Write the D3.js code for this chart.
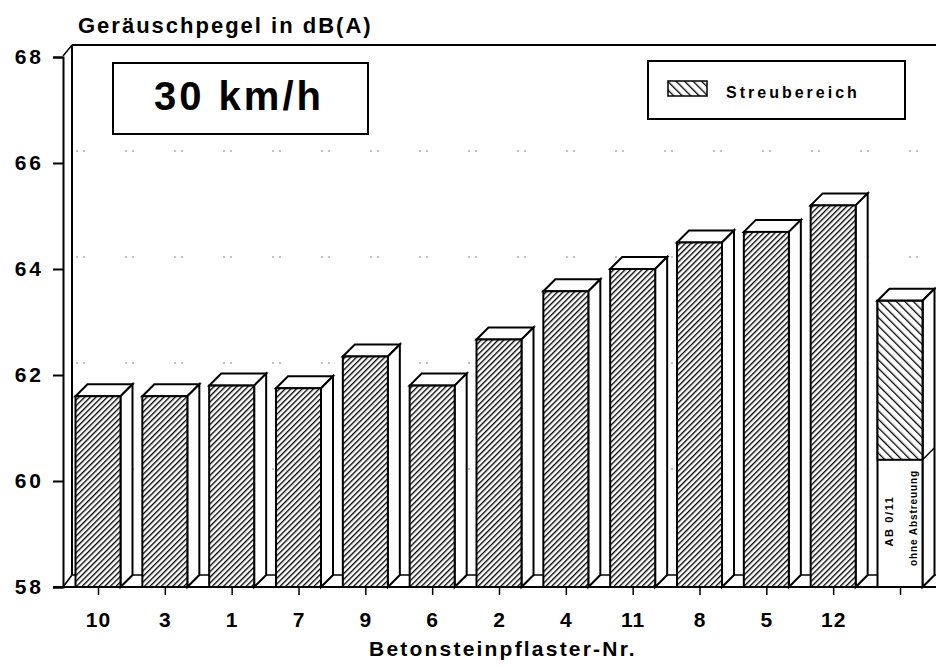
<!DOCTYPE html>
<html>
<head>
<meta charset="utf-8">
<script src="https://cdn.jsdelivr.net/npm/d3@7"></script>
<style>
  body { margin: 0; background: #fff; }
  svg { font-family: "Liberation Sans", Arial, sans-serif; }
</style>
</head>
<body>
<svg id="chart" width="936" height="666"></svg>
<script>
// values
var pflaster = ["10", "3", "1", "7", "9", "6", "2", "4", "11", "8", "5", "12"];
var pegel = [61.6, 61.6, 61.8, 61.75, 62.35, 61.8, 62.67, 63.58, 64.0, 64.5, 64.7, 65.2];
var ab_label = ["AB 0/11", "ohne Abstreuung"];
var ab_ohne = 60.4;      // top of the white part
var ab_streu = 63.4;     // top of the hatched Streubereich
var yticks = [58, 60, 62, 64, 66, 68];
var categories = pflaster.concat(["AB"]);

var svg = d3.select("#chart");
var depth = 12, bar_w = 45;

var x = d3.scalePoint().domain(categories).range([98, 900]);
var y = d3.scaleLinear().domain([58, 68]).range([587, 57]);

// hatch patterns
var defs = svg.append("defs");
var p1 = defs.append("pattern")
    .attr("id", "hatch")
    .attr("patternUnits", "userSpaceOnUse")
    .attr("width", 4).attr("height", 4)
    .attr("patternTransform", "rotate(45)");
p1.append("rect").attr("width", 4).attr("height", 4).attr("fill", "#fff");
p1.append("line").attr("x1", 0).attr("y1", 0).attr("x2", 0).attr("y2", 4)
    .attr("stroke", "#000").attr("stroke-width", 2.7);

var p2 = defs.append("pattern")
    .attr("id", "hatch2")
    .attr("patternUnits", "userSpaceOnUse")
    .attr("width", 6).attr("height", 6)
    .attr("patternTransform", "rotate(-45)");
p2.append("rect").attr("width", 6).attr("height", 6).attr("fill", "#fff");
p2.append("line").attr("x1", 0).attr("y1", 0).attr("x2", 0).attr("y2", 6)
    .attr("stroke", "#000").attr("stroke-width", 2.6);

// back wall / floor
var x_left = 63, base = y(58), wall = x_left + depth - 3;
svg.append("line").attr("x1", wall).attr("x2", 936)
    .attr("y1", y(68) - depth).attr("y2", y(68) - depth)
    .attr("stroke", "#000").attr("stroke-width", 2);
svg.append("line").attr("x1", wall).attr("x2", wall)
    .attr("y1", y(68) - depth).attr("y2", base - depth)
    .attr("stroke", "#000").attr("stroke-width", 2);
svg.append("line").attr("x1", x_left).attr("x2", wall)
    .attr("y1", y(68) - 1).attr("y2", y(68) - depth)
    .attr("stroke", "#000").attr("stroke-width", 1.5);
svg.append("line").attr("x1", wall).attr("x2", 936)
    .attr("y1", base - depth).attr("y2", base - depth)
    .attr("stroke", "#000").attr("stroke-width", 1.5);
svg.append("line").attr("x1", x_left).attr("x2", wall)
    .attr("y1", base).attr("y2", base - depth)
    .attr("stroke", "#000").attr("stroke-width", 1.5);

// faint dotted grid on the back wall
svg.selectAll(".grid").data(yticks.slice(1, 5)).enter().append("line")
    .attr("class", "grid")
    .attr("x1", wall + 4).attr("x2", 936)
    .attr("y1", function(d) { return y(d) - depth; })
    .attr("y2", function(d) { return y(d) - depth; })
    .attr("stroke", "#888").attr("stroke-width", 1)
    .attr("stroke-dasharray", "2,5,2,40");

// y axis
var yAxis = d3.axisLeft(y).tickValues(yticks).tickSize(10).tickPadding(9);
var gy = svg.append("g").attr("transform", "translate(" + x_left + ",0)").call(yAxis);
gy.select(".domain").attr("stroke-width", 2);
gy.selectAll(".tick line").attr("stroke-width", 2);
gy.selectAll(".tick text").attr("font-size", 21).attr("font-weight", "bold")
    .attr("letter-spacing", 3).attr("fill", "#000");

// x axis
var xAxis = d3.axisBottom(x).tickSize(8).tickPadding(17)
    .tickFormat(function(d) { return d === "AB" ? "" : d; });
var gx = svg.append("g").attr("transform", "translate(0," + base + ")").call(xAxis);
gx.select(".domain").attr("d", "M53,0H936").attr("stroke-width", 2);
gx.selectAll(".tick line").attr("stroke-width", 1.5);
gx.selectAll(".tick text").attr("font-size", 21).attr("font-weight", "bold")
    .attr("letter-spacing", 1).attr("fill", "#000");

// bars as pseudo 3D boxes
function box(g, cx, v0, v1, fill) {
  var x0 = cx - bar_w / 2, x1 = cx + bar_w / 2;
  var yt = y(v1), yb = y(v0);
  g.append("path")
    .attr("d", "M" + x0 + "," + yt + "L" + (x0 + depth) + "," + (yt - depth) +
               "L" + (x1 + depth) + "," + (yt - depth) + "L" + x1 + "," + yt + "Z")
    .attr("fill", "#fff").attr("stroke", "#000").attr("stroke-width", 2);
  g.append("path")
    .attr("d", "M" + x1 + "," + yt + "L" + (x1 + depth) + "," + (yt - depth) +
               "L" + (x1 + depth) + "," + (yb - depth) + "L" + x1 + "," + yb + "Z")
    .attr("fill", "#fff").attr("stroke", "#000").attr("stroke-width", 2);
  g.append("rect")
    .attr("x", x0).attr("y", yt).attr("width", bar_w).attr("height", yb - yt)
    .attr("fill", fill).attr("stroke", "#000").attr("stroke-width", 2);
}

var bars = svg.append("g");
pflaster.forEach(function(k, i) {
  var cx = x(k);
  bars.append("line")
    .attr("x1", cx - bar_w / 2).attr("x2", cx - bar_w / 2 + depth)
    .attr("y1", base).attr("y2", base - depth)
    .attr("stroke", "#000").attr("stroke-width", 1.5);
  box(bars, cx, 58, pegel[i], "url(#hatch)");
});

// AB 0/11 bar
var cab = x("AB");
bars.append("line")
  .attr("x1", cab - bar_w / 2).attr("x2", cab - bar_w / 2 + depth)
  .attr("y1", base).attr("y2", base - depth)
  .attr("stroke", "#000").attr("stroke-width", 1.5);
box(bars, cab, 58, ab_streu, "#fff");
bars.append("rect")
  .attr("x", cab - bar_w / 2).attr("y", y(ab_streu))
  .attr("width", bar_w).attr("height", y(ab_ohne) - y(ab_streu))
  .attr("fill", "url(#hatch2)").attr("stroke", "#000").attr("stroke-width", 2);
bars.append("line")
  .attr("x1", cab + bar_w / 2).attr("x2", cab + bar_w / 2 + depth)
  .attr("y1", y(ab_ohne)).attr("y2", y(ab_ohne) - depth)
  .attr("stroke", "#000").attr("stroke-width", 1.5);
var ab_pos = [[cab - 7, 521, 11, 1.6], [cab + 17, 518, 10, 0.9]];
ab_label.forEach(function(t, i) {
  var p = ab_pos[i];
  bars.append("text")
    .attr("transform", "translate(" + p[0] + "," + p[1] + ") rotate(-90)")
    .attr("text-anchor", "middle")
    .attr("font-size", p[2]).attr("font-weight", "bold")
    .attr("letter-spacing", p[3])
    .text(t);
});

// titles
svg.append("text").attr("x", 78).attr("y", 33)
  .attr("font-size", 22).attr("font-weight", "bold").attr("letter-spacing", 2)
  .text("Geräuschpegel in dB(A)");
svg.append("text").attr("x", 503).attr("y", 656).attr("text-anchor", "middle")
  .attr("font-size", 21).attr("font-weight", "bold").attr("letter-spacing", 2.2)
  .text("Betonsteinpflaster-Nr.");

// speed box
svg.append("rect").attr("x", 113).attr("y", 63).attr("width", 255).attr("height", 71)
  .attr("fill", "#fff").attr("stroke", "#000").attr("stroke-width", 2);
svg.append("text").attr("x", 239).attr("y", 110).attr("text-anchor", "middle")
  .attr("font-size", 40).attr("font-weight", "bold").attr("letter-spacing", 3)
  .text("30 km/h");

// legend
svg.append("rect").attr("x", 648).attr("y", 61).attr("width", 257).attr("height", 58)
  .attr("fill", "#fff").attr("stroke", "#000").attr("stroke-width", 2);
svg.append("rect").attr("x", 668).attr("y", 81).attr("width", 39).attr("height", 15)
  .attr("fill", "url(#hatch2)").attr("stroke", "#000").attr("stroke-width", 1.5);
svg.append("text").attr("x", 726).attr("y", 98)
  .attr("font-size", 16).attr("font-weight", "bold").attr("letter-spacing", 3)
  .text("Streubereich");
</script>
</body>
</html>
